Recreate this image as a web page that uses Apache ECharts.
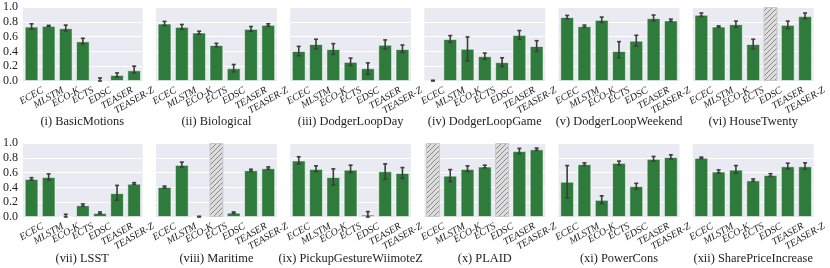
<!DOCTYPE html>
<html>
<head>
<meta charset="utf-8">
<script src="https://cdn.jsdelivr.net/npm/echarts@6/dist/echarts.min.js"></script>
<style>html,body{margin:0;padding:0;background:#fff;}#c{width:830px;height:268px;}</style>
</head>
<body>
<div id="c"></div>
<script>
const CATEGORIES = ['ECEC','MLSTM','ECO-K','ECTS','EDSC','TEASER','TEASER-Z'];
const TITLES = ['(i) BasicMotions','(ii) Biological','(iii) DodgerLoopDay','(iv) DodgerLoopGame','(v) DodgerLoopWeekend','(vi) HouseTwenty',
  '(vii) LSST','(viii) Maritime','(ix) PickupGestureWiimoteZ','(x) PLAID','(xi) PowerCons','(xii) SharePriceIncrease'];
const Y_TICKS = [0, 0.2, 0.4, 0.6, 0.8, 1.0];
// mean accuracy (null = not available -> hatched)
const MEANS = [
  [0.736,0.745,0.714,0.536,0.018,0.082,0.145],
  [0.777,0.732,0.655,0.486,0.173,0.705,0.759],
  [0.405,0.500,0.432,0.259,0.173,0.490,0.432],
  [0.005,0.568,0.436,0.336,0.255,0.623,0.473],
  [0.864,0.741,0.827,0.405,0.545,0.850,0.818],
  [0.895,0.736,0.768,0.500,null,0.759,0.877],
  [0.514,0.541,0.005,0.159,0.055,0.323,0.450],
  [0.405,0.705,0.003,null,0.059,0.632,0.659],
  [0.764,0.650,0.540,0.640,0.032,0.618,0.595],
  [null,0.559,0.650,0.682,null,0.891,0.914],
  [0.477,0.714,0.232,0.732,0.418,0.786,0.809],
  [0.800,0.614,0.641,0.495,0.568,0.686,0.686]
];
const CI_LOW = [
  [0.700,0.740,0.677,0.500,0.000,0.055,0.109],
  [0.750,0.700,0.636,0.464,0.123,0.673,0.741],
  [0.341,0.436,0.359,0.209,0.091,0.432,0.386],
  [0.000,0.523,0.273,0.295,0.195,0.564,0.400],
  [0.841,0.727,0.791,0.314,0.473,0.814,0.805],
  [0.873,0.727,0.727,0.436,null,0.709,0.841],
  [0.500,0.500,0.000,0.145,0.045,0.227,0.441],
  [0.391,0.673,0.000,null,0.050,0.618,0.645],
  [0.718,0.614,0.432,0.600,0.000,0.509,0.523],
  [null,0.477,0.614,0.664,null,0.855,0.900],
  [0.259,0.695,0.182,0.705,0.377,0.755,0.786],
  [0.791,0.595,0.591,0.482,0.550,0.650,0.645]
];
const CI_HIGH = [
  [0.773,0.752,0.755,0.577,0.041,0.109,0.200],
  [0.805,0.764,0.673,0.509,0.223,0.736,0.773],
  [0.468,0.564,0.505,0.309,0.245,0.555,0.486],
  [0.010,0.614,0.595,0.377,0.314,0.682,0.545],
  [0.886,0.755,0.864,0.532,0.618,0.891,0.836],
  [0.918,0.745,0.809,0.564,null,0.809,0.918],
  [0.532,0.582,0.036,0.177,0.068,0.427,0.464],
  [0.418,0.741,0.010,null,0.068,0.645,0.677],
  [0.814,0.691,0.650,0.700,0.073,0.718,0.668],
  [null,0.641,0.691,0.700,null,0.927,0.932],
  [0.695,0.732,0.286,0.755,0.455,0.818,0.841],
  [0.809,0.636,0.695,0.514,0.586,0.727,0.732]
];

const SERIF = '"Liberation Serif", "DejaVu Serif", serif';
const XL_SIZE = 10, XL_ROT = 30 * Math.PI / 180, XL_PAD = 4, XL_H = 10.5;
const XL_FONT = 'italic ' + XL_SIZE + 'px ' + SERIF;
const mctx = document.createElement('canvas').getContext('2d');
mctx.font = XL_FONT;

// hatch pattern
const pc = document.createElement('canvas');
pc.width = 5; pc.height = 5;
const g = pc.getContext('2d');
g.fillStyle = '#dcdcdc'; g.fillRect(0,0,5,5);
g.strokeStyle = '#8a8a8a'; g.lineWidth = 1;
g.beginPath();
g.moveTo(0,5); g.lineTo(5,0);
g.moveTo(-1,1); g.lineTo(1,-1);
g.moveTo(4,6); g.lineTo(6,4);
g.stroke();

const chart = echarts.init(document.getElementById('c'), null, {renderer:'canvas'});
const grids=[], xAxes=[], yAxes=[], series=[], titles=[];
const LEFT0 = 21.7, STEP = 134.2, W = 121, H = 74;
const TOPS = [7, 143];
const GREEN = '#2e7b3c';
for (let p = 0; p < 12; p++) {
  const r = Math.floor(p / 6), c = p % 6;
  const left = LEFT0 + c * STEP;
  grids.push({left: left, top: TOPS[r], width: W, height: H, show: true, backgroundColor: '#eaeaf2', borderWidth: 0, containLabel: false});
  xAxes.push({type:'category', gridIndex:p, data:CATEGORIES,
    axisLine:{show:false}, axisTick:{show:false}, splitLine:{show:false}, axisLabel:{show:false}});
  yAxes.push({type:'value', gridIndex:p, min:0, max:1, interval:0.2,
    axisLine:{show:false}, axisTick:{show:false},
    splitLine:{show:true, lineStyle:{color:'#ffffff', width:1}},
    axisLabel:{show: c === 0, margin:5, fontFamily:SERIF, fontSize:12, color:'#222',
      formatter: v => (Y_TICKS.some(t => Math.abs(t - v) < 1e-9) ? v.toFixed(1) : '')}});
  titles.push({text: TITLES[p], left: left + W/2, top: r === 0 ? 115.5 : 252.5, textAlign:'center', padding:0,
    textStyle:{fontFamily:SERIF, fontSize:12.4, fontWeight:'normal', color:'#222'}});
  series.push({type:'bar', xAxisIndex:p, yAxisIndex:p, barCategoryGap:'20%', barGap:'-100%',
    data: MEANS[p].map(v => v === null ? '-' : v),
    itemStyle:{color:GREEN, borderColor:'rgba(255,255,255,0.55)', borderWidth:1}, silent:true, animation:false});
  series.push({type:'bar', xAxisIndex:p, yAxisIndex:p, barCategoryGap:'20%', barGap:'-100%',
    data: MEANS[p].map(v => v === null ? 1.0 : '-'),
    itemStyle:{color:{image: pc, repeat:'repeat'}, borderColor:'#c8c8c8', borderWidth:1}, silent:true, animation:false});
  const eb = [];
  MEANS[p].forEach((v, i) => { if (v !== null) eb.push([i, CI_LOW[p][i], CI_HIGH[p][i]]); });
  series.push({type:'custom', xAxisIndex:p, yAxisIndex:p, data: eb, encode:{x:0, y:[1,2]}, silent:true, animation:false, z:5,
    renderItem: (params, api) => {
      const x = api.value(0);
      const lo = api.coord([x, api.value(1)]);
      const hi = api.coord([x, api.value(2)]);
      const cw = 2;
      const st = {stroke:'#3d3d3d', lineWidth:1.6};
      return {type:'group', children:[
        {type:'line', shape:{x1:lo[0], y1:lo[1], x2:hi[0], y2:hi[1]}, style:st},
        {type:'line', shape:{x1:lo[0]-cw, y1:lo[1], x2:lo[0]+cw, y2:lo[1]}, style:st},
        {type:'line', shape:{x1:hi[0]-cw, y1:hi[1], x2:hi[0]+cw, y2:hi[1]}, style:st}
      ]};
    }});
  // rotated category tick labels, centred under each tick (matplotlib style)
  series.push({type:'custom', xAxisIndex:p, yAxisIndex:p, clip:false, silent:true, animation:false, z:6,
    data: CATEGORIES.map((name, i) => [i, 0]),
    encode:{x:0, y:1},
    renderItem: (params, api) => {
      const pt = api.coord([api.value(0), 0]);
      const txt = CATEGORIES[params.dataIndex];
      const w = mctx.measureText(txt).width;
      const cy = pt[1] + XL_PAD + (w * Math.sin(XL_ROT) + XL_H * Math.cos(XL_ROT)) / 2;
      return {type:'text', x: pt[0], y: cy, rotation: XL_ROT,
        style:{text: txt, font: XL_FONT, fill:'#222', align:'center', verticalAlign:'middle'}};
    }});
}
chart.setOption({animation:false, grid:grids, xAxis:xAxes, yAxis:yAxes, series:series, title:titles});
</script>
</body>
</html>
